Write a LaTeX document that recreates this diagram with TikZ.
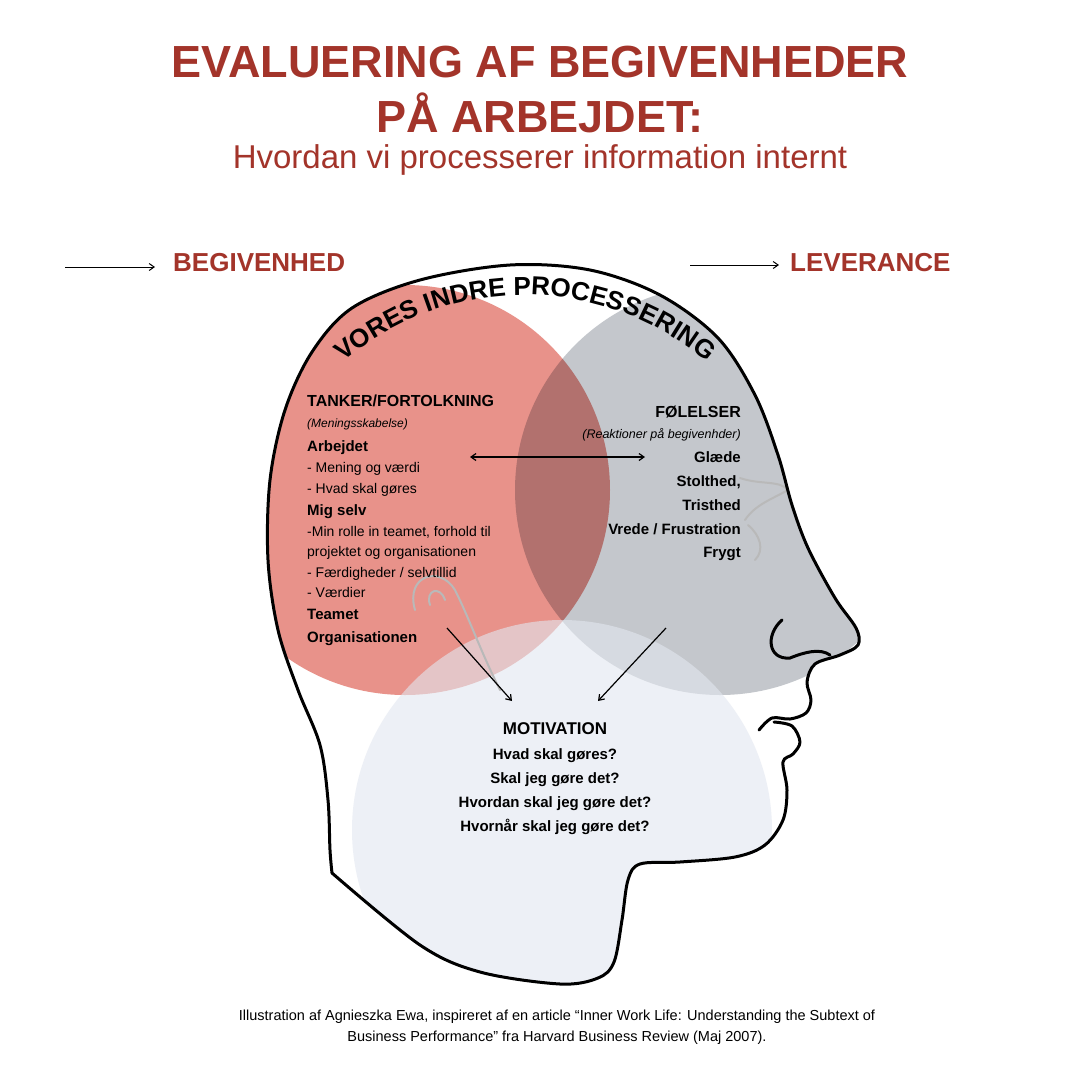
\documentclass[tikz,border=0pt]{standalone}
\usepackage{fontspec}
\setmainfont{Liberation Sans}
\usetikzlibrary{decorations.text,arrows.meta}
\definecolor{tred}{HTML}{A3342A}
\definecolor{cred}{HTML}{E8928A}
\definecolor{cgray}{HTML}{C4C7CC}
\definecolor{clight}{HTML}{E2E7F0}
\tikzset{
  lbl/.style={anchor=base west,inner sep=0pt,font=\fontsize{14}{16}\selectfont},
  lblb/.style={lbl,font=\fontsize{15}{17}\selectfont\bfseries},
  rbl/.style={anchor=base east,inner sep=0pt,font=\fontsize{15}{17}\selectfont\bfseries},
  cbl/.style={anchor=base,inner sep=0pt,font=\fontsize{15}{17}\selectfont\bfseries},
  arr/.style={-{Straight Barb[length=5pt,width=7pt]},line width=1.2pt},
  deco/.style={draw=gray!55,line width=2pt,line cap=round}
}
\newcommand{\headpts}{(332,-873) (330,-850) (328,-800) (320,-745) (298,-690) (278,-630) (268,-560) (270,-480) (285,-410) (312,-352) (352,-308) (420,-280) (510,-265) (590,-270) (660,-295) (718,-338) (755,-395) (778,-455) (792,-505) (808,-548) (835,-598) (856,-628) (858,-645) (840,-655) (815,-664) (807,-682) (811,-700) (806,-713) (790,-719) (772,-718) (759,-730)}
\newcommand{\jawpts}{(774,-722) (792,-726) (800,-742) (793,-754) (783,-762) (787,-790) (783,-820) (765,-845) (735,-857) (680,-862) (640,-864) (628,-880) (622,-920) (614,-962) (598,-978) (560,-984) (480,-972) (420,-945) (332,-873)}
\begin{document}
\begin{tikzpicture}[x=1pt,y=1pt]
\useasboundingbox (0,0) rectangle (1080,-1080);
\fill[white] (0,0) rectangle (1080,-1080);
% title
\node[text=tred,font=\fontsize{45}{50}\selectfont\bfseries,inner sep=0pt] (t1) at (540,-62) {EVALUERING AF BEGIVENHEDER};
\node[text=tred,font=\fontsize{45}{50}\selectfont\bfseries,inner sep=0pt] (t2) at (540,-113) {PÅ ARBEJDET:};
\node[text=tred,font=\fontsize{33}{36}\selectfont,inner sep=0pt] (t3) at (540,-160) {Hvordan vi processerer information internt};
% side labels
\node[text=tred,font=\fontsize{26}{30}\selectfont\bfseries,anchor=west,inner sep=0pt] (beg) at (173,-263) {BEGIVENHED};
\node[text=tred,font=\fontsize{26}{30}\selectfont\bfseries,anchor=west,inner sep=0pt] (lev) at (790,-263) {LEVERANCE};
\coordinate (b0) at (65,-267); \coordinate (b1) at (155,-267);
\coordinate (l0) at (690,-265); \coordinate (l1) at (779,-265);
\draw[arr,line width=1pt] (b0) -- (b1);
\draw[arr,line width=1pt] (l0) -- (l1);
% circles clipped by head
\begin{scope}
\clip plot[smooth,tension=0.55] coordinates {\headpts} -- plot[smooth,tension=0.55] coordinates {\jawpts} -- cycle;
\fill[cred] (405,-490) circle (205);
\begin{scope}[blend mode=multiply]
\fill[cgray] (720,-490) circle (205);
\end{scope}
\fill[clight,opacity=0.6] (562,-830) circle (210);
% decorative ear / face
\draw[deco] (415,-610) .. controls (405,-575) and (440,-565) .. (455,-590) .. controls (470,-620) and (480,-650) .. (500,-690);
\draw[deco] (430,-605) .. controls (425,-590) and (440,-585) .. (445,-600);
\draw[deco] (740,-478) .. controls (760,-485) and (780,-480) .. (788,-490) .. controls (770,-500) and (755,-505) .. (745,-520);
\draw[deco] (748,-525) .. controls (760,-535) and (765,-550) .. (755,-560);
\end{scope}
% head outline
\draw[line width=3pt,line join=round,line cap=round] plot[smooth,tension=0.55] coordinates {\headpts};
\draw[line width=3pt,line join=round,line cap=round] plot[smooth,tension=0.55] coordinates {\jawpts};
\draw[line width=3pt,line cap=round] (782,-620) .. controls (765,-635) and (768,-660) .. (790,-658) .. controls (805,-652) and (820,-648) .. (830,-655);
% curved title
\path[decorate,decoration={text along path,text align=center,
  text={|\fontsize{26}{30}\selectfont\bfseries|VORES INDRE PROCESSERING}}]
  (525,-575) ++(140:280) arc[start angle=140,end angle=40,radius=280];
% left block
\node[lblb,font=\fontsize{16}{18}\selectfont\bfseries] (tk) at (307,-406) {TANKER/FORTOLKNING};
\node[lbl,font=\fontsize{12}{14}\selectfont\itshape] (ms) at (307,-427) {(Meningsskabelse)};
\node[lblb] (ar) at (307,-451) {Arbejdet};
\node[lbl] (a1) at (307,-472) {- Mening og værdi};
\node[lbl] (a2) at (307,-493) {- Hvad skal gøres};
\node[lblb] (mg) at (307,-515) {Mig selv};
\node[lbl] (m1) at (307,-536) {-Min rolle in teamet, forhold til};
\node[lbl] (m2) at (307,-556) {projektet og organisationen};
\node[lbl] (m3) at (307,-577) {- Færdigheder / selvtillid};
\node[lbl] (m4) at (307,-597) {- Værdier};
\node[lblb] (te) at (307,-619) {Teamet};
\node[lblb] (or) at (307,-642) {Organisationen};
% right block
\node[rbl,font=\fontsize{16}{18}\selectfont\bfseries] (fo) at (741,-417) {FØLELSER};
\node[rbl,font=\fontsize{12.5}{14}\selectfont\itshape] (re) at (741,-438) {(Reaktioner på begivenhder)};
\node[rbl] (r1) at (741,-462) {Glæde};
\node[rbl] (r2) at (741,-486) {Stolthed,};
\node[rbl] (r3) at (741,-510) {Tristhed};
\node[rbl] (r4) at (741,-534) {Vrede / Frustration};
\node[rbl] (r5) at (741,-557) {Frygt};
% motivation
\node[cbl,font=\fontsize{17}{19}\selectfont\bfseries] (mo) at (555,-734) {MOTIVATION};
\node[cbl] (q1) at (555,-759) {Hvad skal gøres?};
\node[cbl] (q2) at (555,-783) {Skal jeg gøre det?};
\node[cbl] (q3) at (555,-807) {Hvordan skal jeg gøre det?};
\node[cbl] (q4) at (555,-831) {Hvornår skal jeg gøre det?};
% arrows
\coordinate (d0) at (470,-457); \coordinate (d1) at (645,-457);
\draw[{Straight Barb[length=5pt,width=7pt]}-{Straight Barb[length=5pt,width=7pt]},line width=1.2pt] (d0) -- (d1);
\coordinate (e0) at (447,-628); \coordinate (e1) at (512,-701);
\coordinate (f0) at (666,-628); \coordinate (f1) at (598,-701);
\draw[arr] (e0) -- (e1);
\draw[arr] (f0) -- (f1);
% footer
\node[font=\fontsize{14.5}{21}\selectfont,align=center,inner sep=0pt] (ft) at (557,-1027) {Illustration af Agnieszka Ewa, inspireret af en article “Inner Work Life: Understanding the Subtext of\\Business Performance” fra Harvard Business Review (Maj 2007).};
\end{tikzpicture}
\end{document}
